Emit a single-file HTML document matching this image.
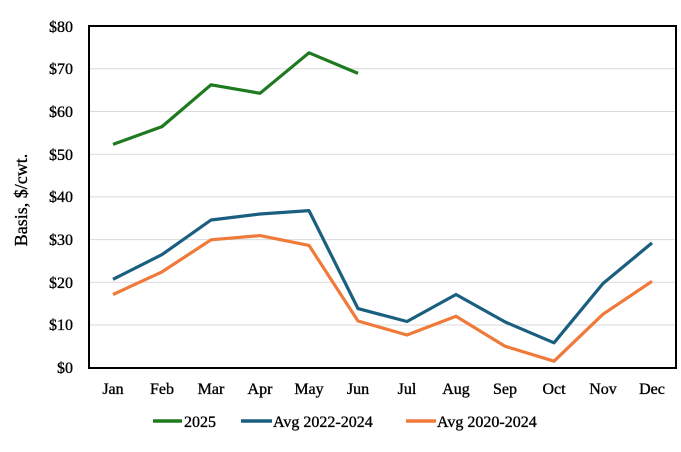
<!DOCTYPE html>
<html><head><meta charset="utf-8"><style>
body{margin:0;background:#fff;}
text{font-family:"Liberation Serif",serif;font-size:16px;fill:#000;stroke:#000;stroke-width:0.35;}
</style></head><body>
<svg width="681" height="447" xmlns="http://www.w3.org/2000/svg">
<g stroke="#d9d9d9" stroke-width="1">
<line x1="89" x2="676" y1="325" y2="325"/><line x1="89" x2="676" y1="282.3" y2="282.3"/>
<line x1="89" x2="676" y1="239.6" y2="239.6"/><line x1="89" x2="676" y1="196.9" y2="196.9"/>
<line x1="89" x2="676" y1="154.2" y2="154.2"/><line x1="89" x2="676" y1="111.5" y2="111.5"/>
<line x1="89" x2="676" y1="68.8" y2="68.8"/>
</g>
<rect x="89" y="26" width="587" height="342" fill="none" stroke="#000" stroke-width="2"/>
<g text-anchor="end" style="font-size:17px">
<text x="73" y="373">$0</text><text x="73" y="330">$10</text><text x="73" y="288">$20</text>
<text x="73" y="245">$30</text><text x="73" y="202">$40</text><text x="73" y="160">$50</text>
<text x="73" y="117">$60</text><text x="73" y="74">$70</text><text x="73" y="32">$80</text>
</g>
<text transform="translate(27,200) rotate(-90)" text-anchor="middle" style="font-size:18px">Basis, $/cwt.</text>
<g text-anchor="middle">
<text x="113" y="394">Jan</text><text x="162" y="394">Feb</text><text x="211" y="394">Mar</text>
<text x="260" y="394">Apr</text><text x="309" y="394">May</text><text x="358" y="394">Jun</text>
<text x="407" y="394">Jul</text><text x="456" y="394">Aug</text><text x="505" y="394">Sep</text>
<text x="554" y="394">Oct</text><text x="603" y="394">Nov</text><text x="652" y="394">Dec</text>
</g>
<g fill="none" stroke-width="3.2" stroke-linejoin="round">
<polyline stroke="#1e7a1e" points="113,144.4 162,126.6 211,84.8 260,93.3 309,52.8 358,73.4"/>
<polyline stroke="#1a5f7f" points="113,279.3 162,254.6 211,220 260,214 309,210.6 358,308.6 407,321.5 456,294.5 505,321.9 554,342.8 603,283.5 652,242.9"/>
<polyline stroke="#ef7a3a" points="113,294.5 162,271.9 211,239.8 260,235.6 309,245.4 358,321 407,335 456,316.3 505,346.2 554,361.2 603,314.2 652,281.3"/>
</g>
<g stroke-width="3.5">
<line x1="153" x2="182" y1="421" y2="421" stroke="#1e7a1e"/>
<line x1="241" x2="272" y1="421" y2="421" stroke="#1a5f7f"/>
<line x1="406" x2="436" y1="421" y2="421" stroke="#ef7a3a"/>
</g>
<g style="font-size:17.5px">
<text x="184" y="427">2025</text>
<text x="273" y="427">Avg 2022-2024</text>
<text x="437" y="427">Avg 2020-2024</text>
</g>
</svg>
</body></html>
